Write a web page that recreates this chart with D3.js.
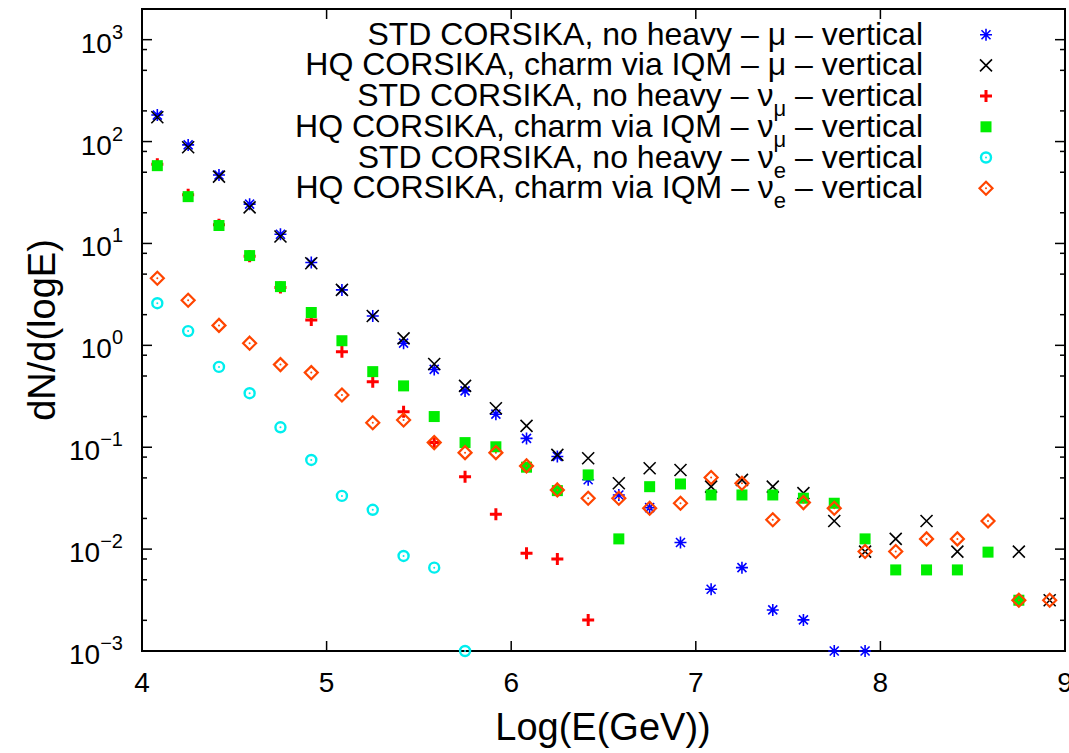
<!DOCTYPE html>
<html><head><meta charset="utf-8">
<script src="https://cdn.jsdelivr.net/npm/d3@7"></script>
<style>body{margin:0;background:#fff}svg{display:block;font-family:"Liberation Sans",Arial,Helvetica,sans-serif}</style>
</head><body><svg id="c" width="1069" height="753"></svg>
<script>
const logE = [4.083,4.25,4.417,4.583,4.75,4.917,5.083,5.25,5.417,5.583,5.75,5.917,6.083,6.25,6.417,6.583,6.75,6.917,7.083,7.25,7.417,7.583,7.75,7.917,8.083,8.25,8.417,8.583,8.75,8.917];
const stdMu   = [182,92.7,47,24.3,12.3,6.5,3.5,1.94,1.05,0.58,0.357,0.211,0.122,0.081,0.048,0.034,0.0255,0.0116,0.00404,0.00658,0.00253,0.00202,0.001,0.001,null,null,null,null,null,null];
const hqMu    = [173,88,45.3,22.6,11.7,6.4,3.5,1.94,1.17,0.656,0.40,0.241,0.162,0.084,0.078,0.0443,0.0622,0.0598,0.041,0.0478,0.041,0.0354,0.0189,0.00946,0.0126,0.0189,0.00946,null,0.00946,0.00315];
const stdNuMu = [60,30,15.3,7.5,3.7,1.77,0.867,0.44,0.223,0.111,0.0514,0.022,0.00912,0.0080,0.00202,null,null,null,null,null,null,null,null,null,null,null,null,null,null,null];
const hqNuMu  = [58,28.8,15,7.6,3.77,2.1,1.11,0.552,0.40,0.2,0.111,0.101,0.0637,0.0375,0.0535,0.0126,0.041,0.0436,0.034,0.034,0.034,0.0316,0.0282,0.0126,0.00625,0.00625,0.00625,0.00934,0.00315,null];
const stdNuE  = [2.59,1.38,0.614,0.339,0.157,0.075,0.0333,0.0243,0.00857,0.00658,0.001,null,null,null,null,null,null,null,null,null,null,null,null,null,null,null,null,null,null,null];
const hqNuE   = [4.55,2.77,1.57,1.05,0.647,0.54,0.326,0.174,0.185,0.111,0.0885,0.0885,0.0656,0.0381,0.0316,0.0316,0.0252,0.0282,0.0504,0.0443,0.0194,0.0286,0.0252,0.00946,0.00946,0.0126,0.0126,0.0189,0.00315,0.00315];
const xTicks = [4,5,6,7,8,9];
const yMajor = [1e-3,1e-2,1e-1,1,10,100,1000];
const yExps  = ["−3","−2","−1","0","1","2","3"];
const legendPrefix = ["STD CORSIKA, no heavy – ","HQ CORSIKA, charm via IQM – ","STD CORSIKA, no heavy – ","HQ CORSIKA, charm via IQM – ","STD CORSIKA, no heavy – ","HQ CORSIKA, charm via IQM – "];
const legendParticle = ["μ","μ","ν","ν","ν","ν"];
const legendSub = ["","","μ","μ","e","e"];
const legendSuffix = " – vertical";

const series = [
 {v:stdMu, type:"star", color:"#0000ff"},
 {v:hqMu, type:"cross", color:"#000000"},
 {v:stdNuMu, type:"plus", color:"#ff0000"},
 {v:hqNuMu, type:"square", color:"#00ee00"},
 {v:stdNuE, type:"circle", color:"#00eeee"},
 {v:hqNuE, type:"diamond", color:"#ff4500"}
];

const L=142,R=1065,T=9,B=651;
const x = d3.scaleLinear().domain([4,9]).range([L,R]);
const y = d3.scaleLog().domain([1e-3,2e3]).range([B,T]);
const svg = d3.select("#c");

function marker(g, type, color){
  if(type==="star"){
    g.append("path").attr("d","M-6,0H6M0,-6V6M-4.5,-4.5L4.5,4.5M-4.5,4.5L4.5,-4.5").attr("stroke",color).attr("stroke-width",1.6).attr("fill","none");
  } else if(type==="cross"){
    g.append("path").attr("d","M-6,-6L6,6M-6,6L6,-6").attr("stroke",color).attr("stroke-width",1.6).attr("fill","none");
  } else if(type==="plus"){
    g.append("path").attr("d","M-6,0H6M0,-6V6").attr("stroke",color).attr("stroke-width",3).attr("fill","none");
  } else if(type==="square"){
    g.append("rect").attr("x",-5.5).attr("y",-5.5).attr("width",11).attr("height",11).attr("fill",color);
  } else if(type==="circle"){
    g.append("circle").attr("r",5).attr("stroke",color).attr("stroke-width",2.4).attr("fill","none");
    g.append("circle").attr("r",1).attr("fill",color);
  } else if(type==="diamond"){
    g.append("path").attr("d","M0,-6.5L6.5,0L0,6.5L-6.5,0Z").attr("stroke",color).attr("stroke-width",2.2).attr("fill","none");
    g.append("circle").attr("r",1).attr("fill",color);
  }
}

// frame
svg.append("rect").attr("x",L).attr("y",T).attr("width",R-L).attr("height",B-T).attr("fill","none").attr("stroke","#000").attr("stroke-width",2);

// x ticks
const xt = svg.append("g");
xTicks.forEach(t=>{
  xt.append("line").attr("x1",x(t)).attr("x2",x(t)).attr("y1",B).attr("y2",B-10).attr("stroke","#000").attr("stroke-width",1.5);
  xt.append("line").attr("x1",x(t)).attr("x2",x(t)).attr("y1",T).attr("y2",T+10).attr("stroke","#000").attr("stroke-width",1.5);
  xt.append("text").attr("x",x(t)).attr("y",692).attr("text-anchor","middle").attr("font-size",28).text(t);
});
// y ticks
const yt = svg.append("g");
yMajor.forEach((t,i)=>{
  yt.append("line").attr("x1",L).attr("x2",L+10).attr("y1",y(t)).attr("y2",y(t)).attr("stroke","#000").attr("stroke-width",1.5);
  yt.append("line").attr("x1",R).attr("x2",R-10).attr("y1",y(t)).attr("y2",y(t)).attr("stroke","#000").attr("stroke-width",1.5);
  const tx = yt.append("text").attr("x",123).attr("y",y(t)+13).attr("text-anchor","end").attr("font-size",28);
  tx.append("tspan").text("10");
  tx.append("tspan").attr("dy",-14).attr("font-size",20).text(yExps[i]);
});
const yMinor=[];
yMajor.forEach(t=>[2,5,8].forEach(m=>{const v=t*m; if(v<2000) yMinor.push(v);}));
yMinor.forEach(t=>{
  yt.append("line").attr("x1",L).attr("x2",L+5).attr("y1",y(t)).attr("y2",y(t)).attr("stroke","#000").attr("stroke-width",1.5);
  yt.append("line").attr("x1",R).attr("x2",R-5).attr("y1",y(t)).attr("y2",y(t)).attr("stroke","#000").attr("stroke-width",1.5);
});

// axis titles
svg.append("text").attr("x",603).attr("y",740).attr("text-anchor","middle").attr("font-size",38).text("Log(E(GeV))");
svg.append("text").attr("transform","translate(55,330) rotate(-90)").attr("text-anchor","middle").attr("font-size",38).text("dN/d(logE)");

// legend
const lg = svg.append("g");
series.forEach((s,i)=>{
  const yy = 34.7 + i*30.7;
  const t = lg.append("text").attr("x",923).attr("y",yy+10).attr("text-anchor","end").attr("font-size",32);
  t.append("tspan").text(legendPrefix[i]+legendParticle[i]);
  if(legendSub[i]){
    t.append("tspan").attr("dy",10).attr("font-size",22).text(legendSub[i]);
    t.append("tspan").attr("dy",-10).text(legendSuffix);
  } else t.append("tspan").text(legendSuffix);
  marker(lg.append("g").attr("transform",`translate(986,${yy})`), s.type, s.color);
});

// points
series.forEach(s=>{
  const g = svg.append("g");
  s.v.forEach((v,i)=>{
    if(v==null) return;
    marker(g.append("g").attr("transform",`translate(${x(logE[i])},${y(v)})`), s.type, s.color);
  });
});
</script></body></html>
